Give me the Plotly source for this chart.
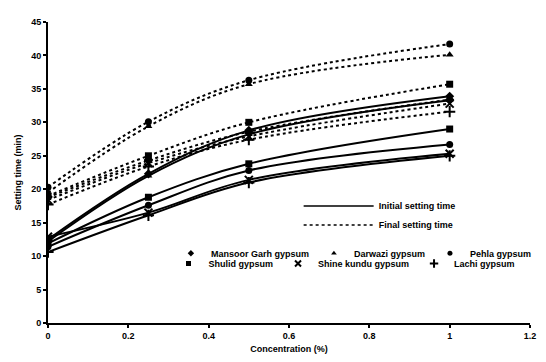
import plotly.graph_objects as go

conc = [0, 0.25, 0.5, 1]

gypsum_names = ["Mansoor Garh gypsum", "Darwazi gypsum", "Pehla gypsum",
                "Shulid gypsum", "Shine kundu gypsum", "Lachi gypsum"]
symbols = ["diamond", "triangle-up", "circle", "square", "x-thin", "cross-thin"]

# Initial setting time (min)
mansoor_i = [12.5, 22.3, 28.8, 33.9]
darwazi_i = [12.2, 22.0, 28.2, 33.3]
pehla_i = [11.4, 17.6, 22.8, 26.7]
shulid_i = [11.9, 18.8, 23.8, 29.0]
shine_i = [12.9, 16.5, 21.4, 25.3]
lachi_i = [10.6, 16.1, 21.0, 25.0]

# Final setting time (min)
mansoor_f = [18.8, 24.3, 28.6, 33.4]
darwazi_f = [19.5, 29.4, 35.7, 40.1]
pehla_f = [20.3, 30.1, 36.3, 41.7]
shulid_f = [19.0, 25.0, 30.0, 35.7]
shine_f = [18.4, 23.9, 27.9, 32.8]
lachi_f = [17.7, 23.4, 27.4, 31.6]

initial = [mansoor_i, darwazi_i, pehla_i, shulid_i, shine_i, lachi_i]
final = [mansoor_f, darwazi_f, pehla_f, shulid_f, shine_f, lachi_f]

x_ticks = [0, 0.2, 0.4, 0.6, 0.8, 1, 1.2]
x_ticklabels = ["0", "0.2", "0.4", "0.6", "0.8", "1", "1.2"]
y_ticks = [0, 5, 10, 15, 20, 25, 30, 35, 40, 45]

FONT = "Liberation Sans"


def marker_for(sym, size=7):
    thin = sym.endswith("-thin")
    return dict(symbol=sym, size=size + (1 if thin else 0), color="black",
                line=dict(color="black", width=2 if thin else 0))


fig = go.Figure()

for name, sym, yi, yf in zip(gypsum_names, symbols, initial, final):
    fig.add_trace(go.Scatter(x=conc, y=yf, mode="lines+markers", showlegend=False,
                             line=dict(color="black", width=2, dash="dot", shape="spline"),
                             marker=marker_for(sym)))
    fig.add_trace(go.Scatter(x=conc, y=yi, mode="lines+markers", showlegend=False,
                             line=dict(color="black", width=2, shape="spline"),
                             marker=marker_for(sym)))

# Line-style legend
fig.add_trace(go.Scatter(x=[None], y=[None], mode="lines", name="Initial setting time",
                         line=dict(color="black", width=1.5), legend="legend"))
fig.add_trace(go.Scatter(x=[None], y=[None], mode="lines", name="Final setting time",
                         line=dict(color="black", width=1.5, dash="dot"), legend="legend"))

# Marker legends (two rows)
for i, (name, sym) in enumerate(zip(gypsum_names, symbols)):
    fig.add_trace(go.Scatter(x=[None], y=[None], mode="markers", name=name,
                             marker=marker_for(sym, 5),
                             legend="legend2" if i < 3 else "legend3"))

legend_font = dict(family=FONT, size=9, color="black", weight="bold")
title_font = dict(family=FONT, size=9, color="black", weight="bold")

# page body has an 8px default margin, so the figure is sized to fit the window
fig.update_layout(
    width=538, height=354,
    margin=dict(l=40, r=9, t=9, b=39),
    paper_bgcolor="white", plot_bgcolor="white",
    font=dict(family=FONT, size=9, color="black", weight="bold"),
    xaxis=dict(range=[0, 1.2], tickvals=x_ticks, ticktext=x_ticklabels,
               showgrid=False, zeroline=False, showline=True, linecolor="black",
               linewidth=2, ticks="outside", ticklen=3, tickwidth=1.5, tickcolor="black",
               tickfont=dict(color="black"),
               title=dict(text="Concentration (%)", standoff=6, font=title_font)),
    yaxis=dict(range=[0, 45], tickvals=y_ticks,
               showgrid=False, zeroline=False, showline=True, linecolor="black",
               linewidth=2, ticks="outside", ticklen=3, tickwidth=1.5, tickcolor="black",
               tickfont=dict(color="black"),
               title=dict(text="Setting time (min)", standoff=8, font=title_font)),
    legend=dict(x=0.52, y=0.437, xanchor="left", yanchor="top", orientation="v",
                bgcolor="rgba(0,0,0,0)", font=legend_font, tracegroupgap=0,
                itemwidth=70),
    legend2=dict(x=0.255, y=0.28, xanchor="left", yanchor="top", orientation="h",
                 bgcolor="rgba(0,0,0,0)", font=legend_font),
    legend3=dict(x=0.25, y=0.246, xanchor="left", yanchor="top", orientation="h",
                 bgcolor="rgba(0,0,0,0)", font=legend_font),
)

fig.write_html("out.html")
